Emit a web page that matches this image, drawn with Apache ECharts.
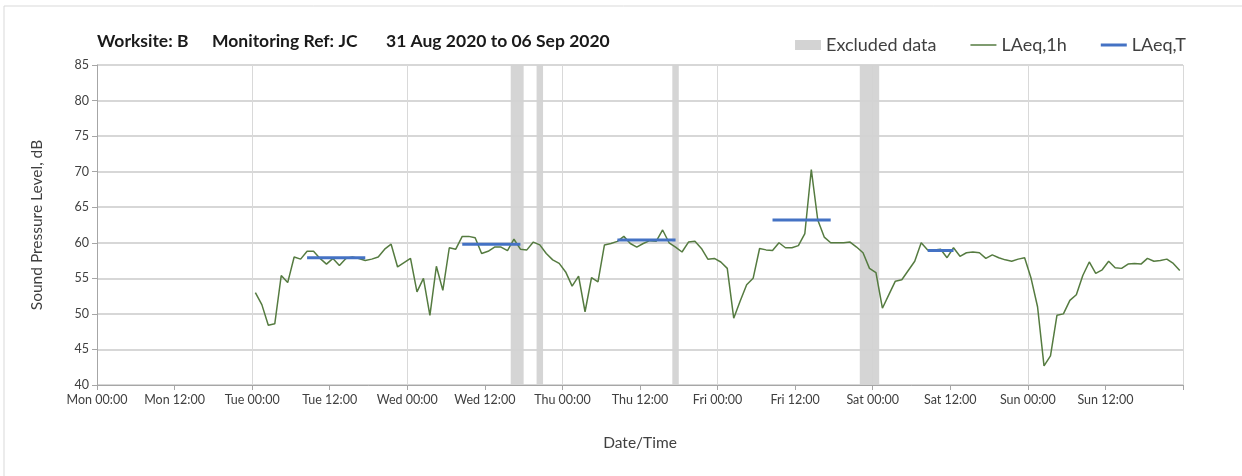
<!DOCTYPE html>
<html>
<head>
<meta charset="utf-8">
<script src="https://cdn.jsdelivr.net/npm/echarts@6/dist/echarts.min.js"></script>
<style>
  html, body { margin: 0; padding: 0; background: #fff; }
  #chart { width: 1242px; height: 476px; }
</style>
</head>
<body>
<div id="chart"></div>
<script>
// hourly LAeq,1h, one array per day, points at hh:30
const laeqTue = [53.0, 51.3, 48.4, 48.6, 55.4, 54.4, 58.0, 57.7, 58.8, 58.8, 57.8, 57.0,
                 57.8, 56.8, 57.8, 58.0, 57.8, 57.5, 57.7, 58.0, 59.1, 59.8, 56.6, 57.2];
const laeqWed = [57.8, 53.1, 55.0, 49.8, 56.7, 53.3, 59.3, 59.1, 60.9, 60.9, 60.7, 58.5,
                 58.8, 59.4, 59.4, 58.9, 60.5, 59.1, 59.0, 60.1, 59.7, 58.5, 57.6, 57.1];
const laeqThu = [55.9, 53.9, 55.3, 50.3, 55.1, 54.5, 59.7, 59.9, 60.2, 60.9, 59.9, 59.4,
                 59.9, 60.3, 60.2, 61.8, 60.0, 59.4, 58.7, 60.1, 60.2, 59.2, 57.7, 57.8];
const laeqFri = [57.3, 56.4, 49.4, 51.8, 54.1, 55.0, 59.2, 59.0, 58.9, 60.0, 59.3, 59.3,
                 59.6, 61.3, 70.3, 63.2, 60.8, 60.0, 60.0, 60.0, 60.1, 59.4, 58.6, 56.4];
const laeqSat = [55.8, 50.8, 52.7, 54.6, 54.8, 56.1, 57.4, 60.0, 59.0, 59.0, 59.1, 57.9,
                 59.3, 58.1, 58.6, 58.7, 58.6, 57.8, 58.3, 57.9, 57.6, 57.4, 57.7, 57.9];
const laeqSun = [55.0, 51.0, 42.7, 44.1, 49.8, 50.0, 51.9, 52.7, 55.4, 57.3, 55.7, 56.2,
                 57.4, 56.5, 56.4, 57.0, 57.1, 57.0, 57.8, 57.4, 57.5, 57.7, 57.1, 56.1];
const firstHour = 24.5; // Tue 00:30, hours from Mon 00:00

// LAeq,T periods (hours from Mon 00:00)
const periodStart = [32.5, 56.5, 80.5, 104.5, 128.5];
const periodEnd   = [41.5, 65.5, 89.5, 113.5, 132.5];
const periodValue = [57.9, 59.8, 60.4, 63.2, 58.9];

// excluded data windows (hours from Mon 00:00)
const excludedStart = [64, 68, 89, 118];
const excludedEnd   = [66, 69, 90, 121];

const xTickLabels = ['Mon 00:00', 'Mon 12:00', 'Tue 00:00', 'Tue 12:00', 'Wed 00:00', 'Wed 12:00',
  'Thu 00:00', 'Thu 12:00', 'Fri 00:00', 'Fri 12:00', 'Sat 00:00', 'Sat 12:00', 'Sun 00:00', 'Sun 12:00'];

const font = 'Lato';
const hourly = [].concat(laeqTue, laeqWed, laeqThu, laeqFri, laeqSat, laeqSun);
const hourlyData = hourly.map((v, i) => [firstHour + i, v]);

const periodSeries = periodValue.map((v, i) => ({
  name: 'LAeq,T',
  type: 'line',
  data: [[periodStart[i], v], [periodEnd[i], v]],
  symbol: 'none',
  lineStyle: { color: '#4472c4', width: 3 },
  itemStyle: { color: '#4472c4' },
  z: 4,
  silent: true
}));

const chart = echarts.init(document.getElementById('chart'));

const option = {
  animation: false,
  textStyle: { fontFamily: font },
  graphic: [
    { type: 'rect', shape: { x: 4, y: 6, width: 1300, height: 500 },
      style: { fill: 'none', stroke: '#d9d9d9', lineWidth: 1 }, silent: true },
    { type: 'text', left: 97, top: 32,
      style: { text: 'Worksite: B', font: 'bold 17.5px ' + font, fill: '#1a1a1a' } },
    { type: 'text', left: 212, top: 32,
      style: { text: 'Monitoring Ref: JC', font: 'bold 17.5px ' + font, fill: '#1a1a1a' } },
    { type: 'text', left: 386, top: 32,
      style: { text: '31 Aug 2020 to 06 Sep 2020', font: 'bold 17.5px ' + font, fill: '#1a1a1a' } }
  ],
  legend: {
    right: 51,
    top: 31,
    itemWidth: 26,
    itemHeight: 10,
    itemGap: 34,
    textStyle: { fontSize: 18, color: '#404040', fontFamily: font },
    data: [
      { name: 'Excluded data', icon: 'rect' },
      { name: 'LAeq,1h', icon: 'path://M0 0H26V1.5H0Z' },
      { name: 'LAeq,T', icon: 'path://M0 0H26V3H0Z' }
    ]
  },
  grid: { left: 97, right: 59, top: 65, bottom: 91 },
  xAxis: {
    type: 'value',
    min: 0,
    max: 168,
    interval: 12,
    name: 'Date/Time',
    nameLocation: 'middle',
    nameGap: 50,
    nameTextStyle: { fontSize: 15.5, color: '#404040' },
    axisLine: { show: true, onZero: false, lineStyle: { color: '#a6a6a6', width: 1 } },
    axisTick: { show: true, length: 5, lineStyle: { color: '#a6a6a6' } },
    axisLabel: {
      fontSize: 12.5, color: '#404040', margin: 8,
      formatter: v => xTickLabels[Math.round(v / 12)] || ''
    },
    splitLine: { show: true, lineStyle: { color: ['#d9d9d9', 'rgba(0,0,0,0)'], width: 1 } }
  },
  yAxis: {
    type: 'value',
    min: 40,
    max: 85,
    interval: 5,
    name: 'Sound Pressure Level, dB',
    nameLocation: 'middle',
    nameGap: 52,
    nameTextStyle: { fontSize: 15.5, color: '#404040' },
    axisLine: { show: true, lineStyle: { color: '#a6a6a6', width: 1 } },
    axisTick: { show: true, length: 5, lineStyle: { color: '#a6a6a6' } },
    axisLabel: { fontSize: 12.5, color: '#404040', margin: 8 },
    splitLine: { show: true, lineStyle: { color: '#cacaca', width: 1.5 } }
  },
  series: [
    {
      name: 'Excluded data',
      type: 'line',
      data: [],
      itemStyle: { color: '#d3d3d3' },
      lineStyle: { color: '#d3d3d3' },
      markArea: {
        silent: true,
        itemStyle: { color: '#d3d3d3', opacity: 0.95 },
        data: excludedStart.map((s, i) => [{ xAxis: s }, { xAxis: excludedEnd[i] }])
      }
    },
    {
      name: 'LAeq,1h',
      type: 'line',
      data: hourlyData,
      symbol: 'none',
      lineStyle: { color: '#557b40', width: 1.5 },
      itemStyle: { color: '#557b40' },
      z: 3,
      silent: true
    }
  ].concat(periodSeries)
};

chart.setOption(option);
</script>
</body>
</html>
